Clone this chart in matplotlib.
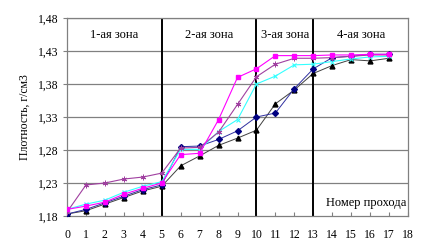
import matplotlib
matplotlib.use("Agg")
import matplotlib.pyplot as plt
from matplotlib.ticker import FixedLocator, FuncFormatter

passes = list(range(18))
magenta_sq = [1.190, 1.195, 1.201, 1.213, 1.222, 1.230, 1.273, 1.275, 1.326, 1.390, 1.403, 1.423, 1.423, 1.423, 1.424, 1.424, 1.425, 1.425]
purple_star = [1.186, 1.227, 1.230, 1.236, 1.239, 1.245, 1.283, 1.284, 1.307, 1.349, 1.391, 1.410, 1.419, 1.419, 1.420, 1.422, 1.424, 1.424]
cyan_x = [1.190, 1.198, 1.204, 1.216, 1.225, 1.232, 1.281, 1.281, 1.308, 1.326, 1.380, 1.392, 1.409, 1.410, 1.414, 1.418, 1.421, 1.422]
navy_diamond = [1.183, 1.190, 1.200, 1.210, 1.220, 1.227, 1.285, 1.286, 1.296, 1.309, 1.330, 1.336, 1.373, 1.403, 1.420, 1.422, 1.425, 1.425]
black_tri = [1.183, 1.188, 1.198, 1.208, 1.218, 1.225, 1.256, 1.271, 1.287, 1.298, 1.310, 1.350, 1.371, 1.396, 1.408, 1.417, 1.415, 1.419]

y_ticks = [1.18, 1.23, 1.28, 1.33, 1.38, 1.43, 1.48]
zone_bounds = [5, 10, 13]
zone_labels = ["1-ая зона", "2-ая зона", "3-ая зона", "4-ая зона"]
zone_centers = [2.5, 7.5, 11.5, 15.5]

plt.rcParams['font.family'] = ['Liberation Serif', 'DejaVu Serif']

fig = plt.figure(figsize=(4.23, 2.48), dpi=100)
ax = fig.add_axes([67/423, 1 - 216/248, (408-67)/423, (216-18)/248])

ax.set_xlim(0, 18)
ax.set_ylim(1.18, 1.48)

for y in y_ticks[1:]:
    ax.axhline(y, color='#808080', lw=0.9, zorder=1)
for xb in zone_bounds:
    ax.axvline(xb, color='black', lw=1.4, zorder=2)

ms = 3.5
ax.plot(passes, black_tri, color='#404040', lw=0.7, marker='^', ms=ms, mfc='black', mec='black', zorder=3)
ax.plot(passes, navy_diamond, color='#3030A0', lw=0.7, marker='D', ms=3, mfc='#000080', mec='#000080', zorder=4)
ax.plot(passes, cyan_x, color='#33FFFF', lw=0.8, marker='x', ms=ms, mew=0.8, zorder=5)
ax.plot(passes, purple_star, color='#A040A0', lw=0.8, marker=(6, 2, 0), ms=4, mew=0.7, zorder=6)
ax.plot(passes, magenta_sq, color='#FF00FF', lw=0.8, marker='s', ms=ms, zorder=7)

for c, t in zip(zone_centers, zone_labels):
    ax.text(c, 1.455, t, ha='center', va='center', fontsize=9)

ax.text(17.9, 1.19, "Номер прохода", ha='right', va='bottom', fontsize=9)

ax.yaxis.set_major_locator(FixedLocator(y_ticks))
ax.yaxis.set_major_formatter(FuncFormatter(lambda v, p: f"{v:.2f}".replace('.', ',')))
ax.xaxis.set_major_locator(FixedLocator(list(range(19))))
ax.tick_params(axis='y', direction='out', length=3, color='#808080', labelsize=8.5, pad=3)
ax.tick_params(axis='x', direction='in', length=3, color='#808080', labelsize=8.5, pad=9)

for s in ax.spines.values():
    s.set_color('#808080')
    s.set_linewidth(0.9)

ax.set_ylabel("Плотность, г/см3", fontsize=8.5, labelpad=5)

fig.savefig("out.png", dpi=100)
